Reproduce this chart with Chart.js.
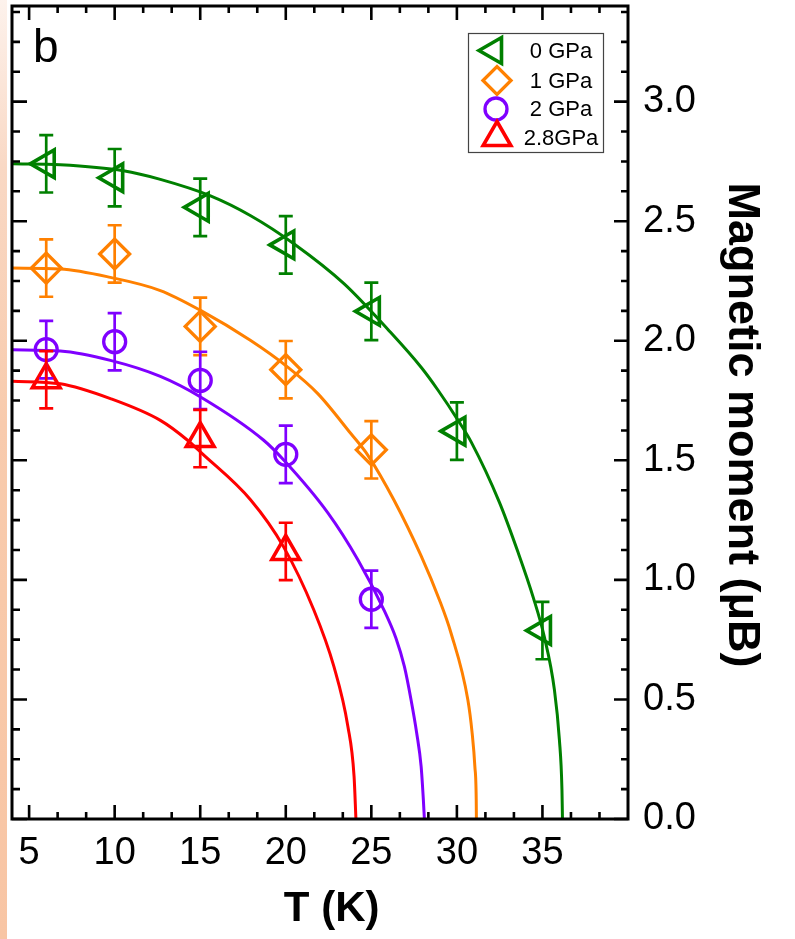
<!DOCTYPE html>
<html><head><meta charset="utf-8">
<script src="https://cdn.jsdelivr.net/npm/chart.js@4"></script>
<style>
html,body{margin:0;padding:0;background:#fff;}
#wrap{position:relative;width:795px;height:939px;overflow:hidden;}
#strip{position:absolute;left:0;top:0;width:7px;height:939px;background:linear-gradient(to bottom,#fdf2ec 0%,#f9d8c4 18%,#f8cbad 45%,#f8c5a4 100%);}
canvas{position:absolute;left:0;top:0;}
</style></head><body>
<div id="wrap"><div id="strip"></div><canvas id="c" width="795" height="939"></canvas></div>
<script>
// ---- data ----
const seriesNames = ['0 GPa', '1 GPa', '2 GPa', '2.8GPa'];

const T_0GPa = [6, 10, 15, 20, 25, 30, 35];
const M_0GPa = [2.74, 2.682, 2.558, 2.401, 2.123, 1.622, 0.788];
const E_0GPa = [0.12, 0.12, 0.12, 0.12, 0.12, 0.12, 0.12];

const T_1GPa = [6, 10, 15, 20, 25];
const M_1GPa = [2.304, 2.363, 2.06, 1.879, 1.544];
const E_1GPa = [0.12, 0.12, 0.12, 0.12, 0.12];

const T_2GPa = [6, 10, 15, 20, 25];
const M_2GPa = [1.963, 1.996, 1.834, 1.525, 0.919];
const E_2GPa = [0.12, 0.12, 0.12, 0.12, 0.12];

const T_28GPa = [6, 15, 20];
const M_28GPa = [1.837, 1.591, 1.119];
const E_28GPa = [0.12, 0.12, 0.12];

// fitted curves
const fitT_0GPa = [4, 6.82, 10.51, 12.67, 15.6, 17.95, 20.47, 23.4, 25.97, 27.91, 28.9, 30.07, 30.84, 32.48, 33.59, 34.47, 35.11, 35.7, 35.99, 36.14, 36.17];
const fitM_0GPa = [2.74, 2.736, 2.711, 2.675, 2.606, 2.523, 2.406, 2.239, 2.047, 1.889, 1.793, 1.667, 1.576, 1.325, 1.112, 0.925, 0.762, 0.54, 0.332, 0.123, 0];

const fitT_1GPa = [4, 6.82, 9.75, 12.67, 15.02, 17.95, 20.11, 21.87, 23.8, 24.8, 26.32, 27.91, 28.98, 29.66, 30.64, 30.89, 31.05, 31.13, 31.14];
const fitM_1GPa = [2.304, 2.3, 2.265, 2.21, 2.127, 2.001, 1.89, 1.779, 1.612, 1.521, 1.334, 1.1, 0.916, 0.777, 0.499, 0.36, 0.22, 0.081, 0];

const fitT_2GPa = [4, 6.82, 9.75, 12.67, 15.02, 18.71, 19.88, 22.46, 24.22, 25.74, 26.44, 26.93, 27.32, 27.65, 27.91, 28.04, 28.1];
const fitM_2GPa = [1.962, 1.957, 1.918, 1.851, 1.765, 1.584, 1.501, 1.28, 1.083, 0.874, 0.756, 0.638, 0.499, 0.36, 0.22, 0.081, 0];

const fitT_28GPa = [4, 6.82, 9.75, 12.67, 14.26, 15.02, 17.95, 19.88, 21.64, 22.81, 23.63, 23.99, 24.1];
const fitM_28GPa = [1.831, 1.82, 1.758, 1.667, 1.584, 1.534, 1.334, 1.137, 0.874, 0.638, 0.387, 0.179, 0];

const xTickValues = [5, 10, 15, 20, 25, 30, 35];
const xTickLabels = ['5', '10', '15', '20', '25', '30', '35'];
const yTickValues = [0, 0.5, 1.0, 1.5, 2.0, 2.5, 3.0];
const yTickLabels = ['0.0', '0.5', '1.0', '1.5', '2.0', '2.5', '3.0'];

const xTitle = 'T (K)';
const yTitle = 'Magnetic moment (\u03BCB)';
const panelLabel = 'b';

// ---- styling ----
const FONT = '"Liberation Sans", Arial, Helvetica, sans-serif';
const colors = ['#008000', '#ff8000', '#7f00ff', '#ff0000'];
const styles = [
  {pointStyle: 'triangle', rotation: -90, radius: 16, bw: 3.6},
  {pointStyle: 'rectRot', rotation: 0, radius: 15, bw: 3.3},
  {pointStyle: 'circle', rotation: 0, radius: 11, bw: 3.3},
  {pointStyle: 'triangle', rotation: 0, radius: 16, bw: 3.6}
];
const pts = (xs, ys) => xs.map((v, i) => ({x: v, y: ys[i]}));
const NB = '\u00A0\u00A0';

const markerSets = [
  [T_0GPa, M_0GPa, E_0GPa],
  [T_1GPa, M_1GPa, E_1GPa],
  [T_2GPa, M_2GPa, E_2GPa],
  [T_28GPa, M_28GPa, E_28GPa]
];
const fitSets = [
  [fitT_0GPa, fitM_0GPa],
  [fitT_1GPa, fitM_1GPa],
  [fitT_2GPa, fitM_2GPa],
  [fitT_28GPa, fitM_28GPa]
];

const datasets = [];
fitSets.forEach((f, i) => {
  datasets.push({
    label: seriesNames[i] + ' fit', data: pts(f[0], f[1]), showLine: true,
    borderColor: colors[i], borderWidth: 3, pointRadius: 0, fill: false,
    cubicInterpolationMode: 'monotone', order: 2
  });
});
markerSets.forEach((m, i) => {
  datasets.push({
    label: seriesNames[i], data: pts(m[0], m[1]), showLine: false,
    borderColor: colors[i], backgroundColor: 'rgba(0,0,0,0)',
    pointStyle: styles[i].pointStyle, rotation: styles[i].rotation,
    pointRadius: styles[i].radius, pointBorderWidth: styles[i].bw,
    errors: m[2], order: 1, clip: false
  });
});

const errorBars = {
  id: 'errorBars',
  afterDatasetsDraw(chart) {
    const {ctx, scales: {x, y}} = chart;
    ctx.save();
    chart.data.datasets.forEach(ds => {
      if (!ds.errors) return;
      ctx.strokeStyle = ds.borderColor;
      ctx.lineWidth = 2.7;
      ctx.beginPath();
      ds.data.forEach((p, i) => {
        const px = x.getPixelForValue(p.x);
        const y1 = y.getPixelForValue(p.y + ds.errors[i]);
        const y2 = y.getPixelForValue(p.y - ds.errors[i]);
        ctx.moveTo(px, y1); ctx.lineTo(px, y2);
        ctx.moveTo(px - 7, y1); ctx.lineTo(px + 7, y1);
        ctx.moveTo(px - 7, y2); ctx.lineTo(px + 7, y2);
      });
      ctx.stroke();
    });
    ctx.restore();
  }
};

function drawMarker(ctx, style, color, cx, cy) {
  ctx.save();
  ctx.strokeStyle = color;
  ctx.lineWidth = style.bw;
  ctx.lineJoin = 'miter';
  ctx.beginPath();
  const r = style.radius;
  if (style.pointStyle === 'circle') {
    ctx.arc(cx, cy, r, 0, Math.PI * 2);
  } else if (style.pointStyle === 'rectRot') {
    ctx.moveTo(cx - r, cy); ctx.lineTo(cx, cy - r); ctx.lineTo(cx + r, cy); ctx.lineTo(cx, cy + r); ctx.closePath();
  } else {
    let rad = style.rotation * Math.PI / 180;
    ctx.moveTo(cx + Math.sin(rad) * r, cy - Math.cos(rad) * r);
    rad += 2 * Math.PI / 3;
    ctx.lineTo(cx + Math.sin(rad) * r, cy - Math.cos(rad) * r);
    rad += 2 * Math.PI / 3;
    ctx.lineTo(cx + Math.sin(rad) * r, cy - Math.cos(rad) * r);
    ctx.closePath();
  }
  ctx.stroke();
  ctx.restore();
}

const frameAndLegend = {
  id: 'frameAndLegend',
  afterDraw(chart) {
    const {ctx, chartArea: a, scales: {x, y}} = chart;
    ctx.save();
    const xMinor = [];
    for (let i = 0; i < xTickValues.length; i++) {
      const s = 5 / 3;
      [xTickValues[i] + s, xTickValues[i] + 2 * s].forEach(v => { if (v < x.max) xMinor.push(v); });
    }
    const yMinor = [];
    for (let v = y.min; v < y.max - 1e-6; v += 0.125) {
      if (Math.abs(v / 0.5 - Math.round(v / 0.5)) > 1e-6) yMinor.push(v);
    }
    ctx.strokeStyle = '#000';
    ctx.lineWidth = 2.6;
    ctx.beginPath();
    xTickValues.forEach(v => {
      const p = x.getPixelForValue(v);
      ctx.moveTo(p, a.bottom); ctx.lineTo(p, a.bottom - 14);
      ctx.moveTo(p, a.top); ctx.lineTo(p, a.top + 14);
    });
    xMinor.forEach(v => {
      const p = x.getPixelForValue(v);
      ctx.moveTo(p, a.bottom); ctx.lineTo(p, a.bottom - 7);
      ctx.moveTo(p, a.top); ctx.lineTo(p, a.top + 7);
    });
    yTickValues.forEach(v => {
      const p = y.getPixelForValue(v);
      ctx.moveTo(a.left, p); ctx.lineTo(a.left + 15, p);
      ctx.moveTo(a.right, p); ctx.lineTo(a.right - 14, p);
    });
    yMinor.forEach(v => {
      const p = y.getPixelForValue(v);
      ctx.moveTo(a.left, p); ctx.lineTo(a.left + 8, p);
      ctx.moveTo(a.right, p); ctx.lineTo(a.right - 7, p);
    });
    ctx.stroke();
    ctx.lineWidth = 3;
    ctx.strokeRect(a.left, a.top, a.right - a.left, a.bottom - a.top);

    // panel label
    ctx.fillStyle = '#000';
    ctx.font = '46px ' + FONT;
    ctx.textAlign = 'left';
    ctx.textBaseline = 'alphabetic';
    ctx.fillText(panelLabel, 33, 62);

    // legend
    ctx.lineWidth = 1.2;
    ctx.strokeStyle = '#444';
    ctx.strokeRect(468.5, 33.5, 135, 119);
    const rows = [50.5, 80.5, 109, 137.5];
    const legendStyles = [
      {pointStyle: 'triangle', rotation: -90, radius: 15, bw: 3.6},
      {pointStyle: 'rectRot', rotation: 0, radius: 14, bw: 3.3},
      {pointStyle: 'circle', rotation: 0, radius: 11, bw: 3.3},
      {pointStyle: 'triangle', rotation: 0, radius: 16, bw: 3.6}
    ];
    const mx = [494, 497, 496, 497];
    ctx.font = '22px ' + FONT;
    ctx.textAlign = 'center';
    ctx.textBaseline = 'middle';
    seriesNames.forEach((n, i) => {
      drawMarker(ctx, legendStyles[i], colors[i], mx[i], rows[i]);
      ctx.fillStyle = '#000';
      ctx.fillText(n, 561, rows[i] + 1);
    });
    ctx.restore();
  }
};

new Chart(document.getElementById('c'), {
  type: 'scatter',
  data: {datasets},
  options: {
    responsive: false,
    animation: false,
    devicePixelRatio: 1,
    events: [],
    layout: {autoPadding: false, padding: {left: 12, top: 6, right: 0, bottom: 0}},
    plugins: {legend: {display: false}, tooltip: {enabled: false}},
    scales: {
      x: {
        type: 'linear', position: 'bottom', min: 4, max: 40,
        grid: {display: false, drawTicks: false},
        border: {display: false},
        ticks: {
          font: {family: FONT, size: 38}, color: '#000', padding: 12,
          autoSkip: false, maxRotation: 0, minRotation: 0,
          callback: (v, i) => xTickLabels[i]
        },
        title: {display: true, text: NB + xTitle, color: '#000',
          font: {family: FONT, size: 42, weight: 'bold'}, padding: {top: 0, bottom: 4}},
        afterBuildTicks: s => { s.ticks = xTickValues.map(v => ({value: v})); },
        afterFit: s => { s.height = 120; s.paddingLeft = 0; s.paddingRight = 0; }
      },
      y: {
        type: 'linear', position: 'right', min: 0, max: 3.4,
        grid: {display: false, drawTicks: false},
        border: {display: false},
        ticks: {
          font: {family: FONT, size: 38}, color: '#000', padding: 15,
          autoSkip: false,
          callback: (v, i) => yTickLabels[i]
        },
        title: {display: true, text: NB + yTitle, color: '#000',
          font: {family: FONT, size: 45, weight: 'bold'}, padding: {top: 27, bottom: 0}},
        afterBuildTicks: s => { s.ticks = yTickValues.map(v => ({value: v})); },
        afterFit: s => { s.width = 167; s.paddingTop = 0; s.paddingBottom = 0; }
      }
    }
  },
  plugins: [errorBars, frameAndLegend]
});
</script>
</body></html>
